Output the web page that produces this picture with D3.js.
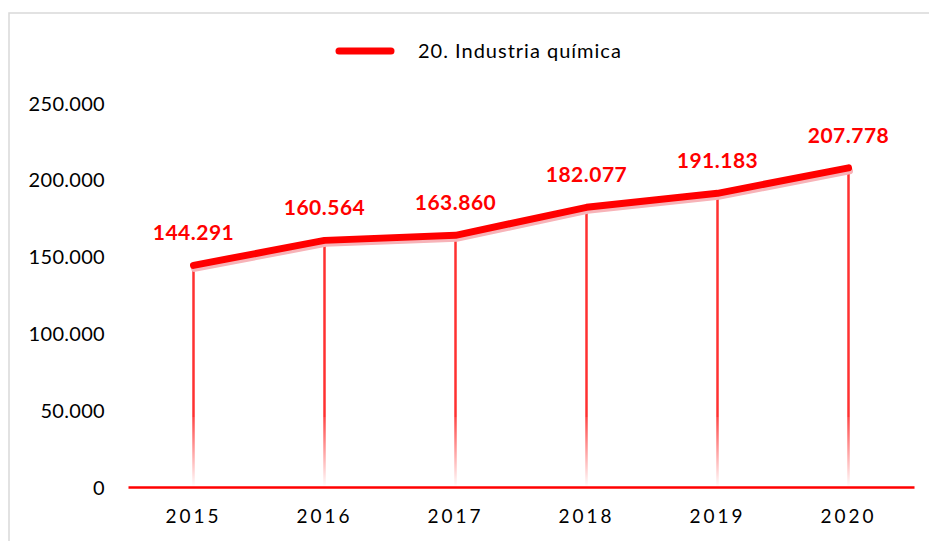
<!DOCTYPE html>
<html>
<head>
<meta charset="utf-8">
<script src="https://cdn.jsdelivr.net/npm/d3@7"></script>
<style>
  html, body { margin: 0; padding: 0; background: #fff; }
  svg { display: block; }
</style>
</head>
<body>
<svg id="chart" width="929" height="541"></svg>
<script>
const categories = ["2015", "2016", "2017", "2018", "2019", "2020"];
const values = [144291, 160564, 163860, 182077, 191183, 207778];
const yTicks = [0, 50000, 100000, 150000, 200000, 250000];
const seriesName = "20. Industria química";

const fmt = v => d3.format(",")(v).replace(/,/g, ".");
const font = "Lato, 'Open Sans', sans-serif";

const svg = d3.select("#chart");
const W = 929, H = 541;

// outer border
svg.append("rect").attr("x", 9).attr("y", 13).attr("width", W + 10).attr("height", H + 10)
  .attr("fill", "#fff").attr("stroke", "#d9d9d9").attr("stroke-width", 1.5);

const x = d3.scaleBand().domain(categories).range([128, 914]);
const y = d3.scaleLinear().domain([0, 250000]).range([487, 103]);

const defs = svg.append("defs");
const grad = defs.append("linearGradient").attr("id", "dropGrad")
  .attr("gradientUnits", "userSpaceOnUse")
  .attr("x1", 0).attr("x2", 0).attr("y1", y(0) - 70).attr("y2", y(0));
grad.append("stop").attr("offset", "0%").attr("stop-color", "#ff4545");
grad.append("stop").attr("offset", "100%").attr("stop-color", "#ffffff");

// y axis labels
const yAxis = d3.axisLeft(y).tickValues(yTicks).tickFormat(fmt).tickSize(0).tickPadding(0);
const gy = svg.append("g").attr("transform", "translate(105,0)").call(yAxis);
gy.select(".domain").remove();
gy.selectAll("text").attr("font-family", font).attr("font-size", 20).attr("fill", "#000")
  .attr("letter-spacing", "0.3px").attr("dy", "0.35em");

// drop lines
const cx = d => x(d) + x.bandwidth() / 2;
const data = categories.map((c, i) => ({c, v: values[i]}));
const drops = svg.append("g");
data.forEach(d => {
  drops.append("line").attr("x1", cx(d.c)).attr("x2", cx(d.c))
    .attr("y1", y(d.v)).attr("y2", y(0) - 70)
    .attr("stroke", "#ff3030").attr("stroke-width", 2.5);
  drops.append("rect").attr("x", cx(d.c) - 1.25).attr("width", 2.5)
    .attr("y", y(0) - 70).attr("height", 70)
    .attr("fill", "url(#dropGrad)");
});

// x axis line
const xAxis = d3.axisBottom(x).tickSize(0).tickPadding(23);
const gx = svg.append("g").attr("transform", `translate(0,${y(0)})`).call(xAxis);
gx.select(".domain").attr("stroke", "#ff0000").attr("stroke-width", 2.5);
gx.selectAll("text").attr("font-family", font).attr("font-size", 19).attr("fill", "#000")
  .attr("letter-spacing", "3px").attr("dy", "0.71em");

// line shadow and line
const line = d3.line().x(d => cx(d.c)).y(d => y(d.v));
svg.append("path").datum(data).attr("d", line)
  .attr("transform", "translate(1,3)")
  .attr("fill", "none").attr("stroke", "#f7b3b8").attr("stroke-width", 7)
  .attr("stroke-linecap", "round").attr("stroke-linejoin", "round");
svg.append("path").datum(data).attr("d", line)
  .attr("fill", "none").attr("stroke", "#ff0000").attr("stroke-width", 7)
  .attr("stroke-linecap", "round").attr("stroke-linejoin", "round");

// data labels
svg.append("g").selectAll("text").data(data).join("text")
  .attr("x", d => cx(d.c)).attr("y", d => y(d.v) - 25)
  .attr("text-anchor", "middle")
  .attr("font-family", font).attr("font-weight", "bold").attr("font-size", 21)
  .attr("letter-spacing", "0.5px")
  .attr("fill", "#ff0000").text(d => fmt(d.v));

// legend
const lg = svg.append("g");
lg.append("line").attr("x1", 339).attr("x2", 391).attr("y1", 51).attr("y2", 51)
  .attr("stroke", "#ff0000").attr("stroke-width", 7).attr("stroke-linecap", "round");
lg.append("text").attr("x", 418).attr("y", 51).attr("dy", "0.35em")
  .attr("font-family", font).attr("font-size", 20).attr("letter-spacing", "1px")
  .attr("fill", "#000").text(seriesName);
</script>
</body>
</html>
